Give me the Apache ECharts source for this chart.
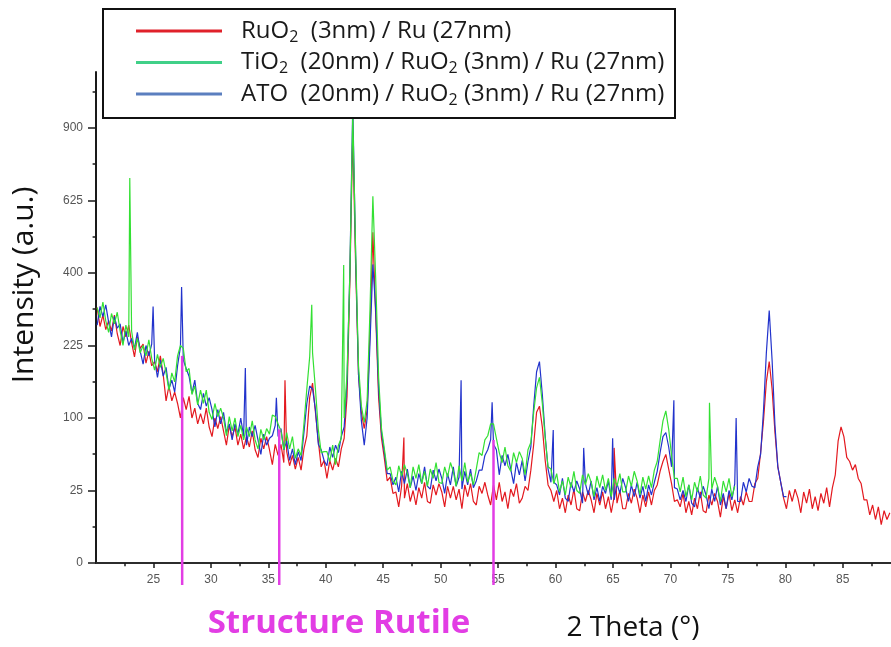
<!DOCTYPE html>
<html>
<head>
<meta charset="utf-8">
<script src="https://cdn.jsdelivr.net/npm/echarts@6/dist/echarts.min.js"></script>
<style>
  html, body { margin: 0; padding: 0; background: #fff; }
  #chart { width: 891px; height: 647px; }
</style>
</head>
<body>
<div id="chart"></div>
<script>
// XRD scans: intensity (a.u.) sampled every 0.25° of 2θ starting at 20.1°
const START = 20.1;
const STEP = 0.25;

// RuO2 (3nm) / Ru (27nm)
const ruo2 = [
  310, 266, 292, 259,  279, 256, 292, 250,  225, 266, 243, 269,  231, 202, 243, 219,
  228, 190, 213, 185,  193, 174, 204, 169,  125, 149, 125, 139,  121, 100, 130, 112,
  132, 100, 114, 92,   106, 92, 114, 88,    76, 100, 86, 102,    83, 66, 90, 76,
  88, 66, 79, 62,      76, 64, 83, 61,      53, 74, 62, 76,      61, 46, 67, 55,
  67, 48, 59, 45,      55, 42, 53, 41,      62, 77, 130, 154,    108, 71, 44, 50,
  34, 50, 41, 52,      44, 62, 74, 132,     380, 882, 420, 169,  108, 86, 112, 256,
  520, 289, 130, 74,   52, 32, 35, 23,      24, 15, 28, 20,      30, 18, 25, 16,
  27, 20, 31, 18,      17, 29, 22, 30,      24, 15, 28, 20,      28, 19, 26, 14,
  29, 21, 30, 18,      16, 28, 23, 31,      22, 16, 29, 19,      31, 18, 24, 14,
  26, 21, 30, 17,      20, 28, 25, 41,      67, 108, 117, 88,    50, 29, 25, 18,
  25, 14, 20, 12,      22, 16, 26, 14,      13, 24, 18, 25,      19, 12, 23, 16,
  24, 14, 21, 12,      21, 17, 25, 14,      14, 23, 17, 26,      20, 12, 22, 15,
  24, 16, 25, 29,      40, 49, 56, 42,      30, 18, 19, 15,      23, 12, 18, 11,
  20, 14, 24, 13,      12, 22, 16, 23,      18, 10, 21, 14,      23, 13, 19, 12,
  21, 16, 24, 18,      18, 30, 34, 58,      96, 156, 193, 144,   81, 44, 31, 20,
  14, 25, 18, 26,      20, 12, 24, 17,      26, 14, 21, 13,      23, 17, 27, 15,
  27, 37, 71, 88,      76, 53, 49, 41,      46, 34, 30, 19,      19, 11, 16, 9,
  15, 7, 13, 9,        12
];

// TiO2 (20nm) / RuO2 (3nm) / Ru (27nm)
const tio2 = [
  310, 286, 324, 279,  253, 296, 272, 299,  256, 225, 269, 243,  256, 216, 240, 210,
  225, 204, 237, 199,  177, 207, 182, 199,  172, 142, 172, 156,  204, 225, 219, 174,
  180, 135, 149, 119,  142, 121, 142, 108,  98, 121, 102, 114,   100, 77, 102, 83,
  100, 76, 90, 72,     88, 76, 96, 72,      62, 85, 72, 86,      79, 104, 102, 92,
  83, 61, 81, 62,      76, 52, 62, 55,      92, 144, 202, 210,   144, 85, 58, 59,
  59, 49, 66, 46,      66, 74, 100, 169,    400, 961, 462, 185,  117, 94, 125, 306,
  640, 380, 164, 86,   62, 41, 44, 32,      29, 45, 36, 46,      38, 27, 44, 34,
  46, 30, 40, 28,      42, 34, 48, 31,      30, 44, 35, 48,      40, 28, 45, 32,
  48, 31, 38, 29,      42, 58, 55, 72,      77, 92, 92, 74,      58, 48, 64, 45,
  40, 58, 48, 59,      52, 37, 61, 69,      108, 146, 164, 121,  74, 44, 42, 30,
  38, 24, 32, 22,      35, 27, 40, 25,      23, 37, 29, 38,      31, 21, 36, 27,
  37, 25, 34, 21,      34, 28, 38, 24,      24, 36, 28, 40,      32, 22, 35, 26,
  36, 27, 41, 49,      71, 96, 110, 85,     55, 34, 34, 24,      35, 21, 29, 19,
  31, 24, 36, 22,      20, 34, 26, 35,      28, 18, 32, 24,      34, 21, 28
];

// ATO (20nm) / RuO2 (3nm) / Ru (27nm)
const ato = [
  269, 313, 289, 317,  276, 243, 289, 262,  272, 231, 256, 225,  240, 219, 253, 213,
  188, 225, 204, 228,  196, 164, 196, 166,  182, 144, 159, 139,  185, 222, 196, 180,
  166, 137, 159, 121,  112, 137, 117, 130,  112, 88, 112, 92,    108, 81, 92, 72,
  92, 79, 100, 76,     66, 88, 76, 90,      72, 56, 79, 66,      74, 77, 90, 76,
  86, 61, 71, 50,      62, 46, 59, 50,      81, 121, 149, 144,   112, 67, 61, 50,
  45, 64, 53, 66,      58, 76, 88, 156,     408, 999, 449, 169,  96, 66, 100, 231,
  424, 303, 144, 81,   58, 38, 38, 29,      35, 24, 40, 30,      42, 27, 36, 25,
  38, 30, 44, 28,      26, 41, 32, 42,      34, 23, 38, 29,      44, 28, 35, 26,
  40, 29, 42, 27,      32, 41, 41, 55,      61, 72, 67, 61,      37, 55, 45, 56,
  42, 30, 48, 37,      50, 32, 49, 64,      117, 174, 193, 135,  77, 42, 31, 31,
  29, 22, 34, 20,      18, 31, 24, 32,      26, 17, 30, 22,      32, 19, 27, 18,
  28, 23, 32, 19,      19, 30, 23, 34,      27, 18, 29, 21,      31, 20, 28, 18,
  29, 22, 31, 40,      58, 76, 81, 64,      44, 27, 26, 19,      25, 18, 29, 17,
  15, 27, 20, 28,      22, 14, 26, 18,      28, 16, 23, 14,      25, 19, 30, 18,
  18, 31, 24, 34,      28, 27, 44, 56,      110, 210, 303, 196,  90, 44, 31, 21,
  21
];

// Sharp single-channel spikes [2θ, intensity]
const ruo2Spikes = [[36.45, 159], [46.8, 75], [65.1, 63]];
const tio2Spikes = [[22.94, 705], [38.78, 317], [41.56, 422], [73.4, 122]];
const atoSpikes = [
  [20.45, 317], [24.97, 313], [27.45, 362], [33.0, 181], [35.7, 130], [51.78, 159],
  [54.48, 123], [59.8, 84], [62.45, 63], [64.97, 74], [70.3, 126], [75.72, 100]
];

// Rutile reference reflections: 2θ position and height of the marker
const rutilePos = [27.5, 35.95, 54.6];
const rutileTop = [204, 85, 72];

// Axis ticks (intensity axis is square-root scaled)
const xTicks = [25, 30, 35, 40, 45, 50, 55, 60, 65, 70, 75, 80, 85];
const xMinorTicks = [22.5, 27.5, 32.5, 37.5, 42.5, 47.5, 52.5, 57.5, 62.5, 67.5, 72.5, 77.5, 82.5, 87.5];
const yTickLabels = [0, 25, 100, 225, 400, 625, 900];
const yMinorTickLabels = [6.25, 56.25, 156.25, 306.25, 506.25, 756.25, 1056.25];

const names = [
  'RuO₂ (3nm) / Ru (27nm)',
  'TiO₂ (20nm) / RuO₂ (3nm) / Ru (27nm)',
  'ATO (20nm) / RuO₂ (3nm) / Ru (27nm)'
];
const legendRich = {
  [names[0]]: '{g|}{t|RuO}{s|2}{t|  (3nm) / Ru (27nm)}',
  [names[1]]: '{g|}{t|TiO}{s|2}{t|  (20nm) / RuO}{s|2}{t| (3nm) / Ru (27nm)}',
  [names[2]]: '{g|}{t|ATO  (20nm) / RuO}{s|2}{t| (3nm) / Ru (27nm)}'
};

const X_MIN = 20, X_MAX = 89.2;
const Y_MAX = 33.86; // sqrt units

function toPoints(values, spikes) {
  const pts = values.map((v, i) => [+(START + i * STEP).toFixed(2), v]);
  spikes.forEach(s => pts.push(s));
  pts.sort((a, b) => a[0] - b[0]);
  return pts.map(p => [p[0], Math.sqrt(p[1])]);
}

const FONT = '"Open Sans", "Noto Sans", sans-serif';
const TICK_FONT = '"Liberation Sans", Arial, sans-serif';
const PINK = '#e23de4';

const chart = echarts.init(document.getElementById('chart'), null, { renderer: 'canvas' });

const lineSeries = (name, data, color, z) => ({
  name, type: 'line', data, showSymbol: false, symbol: 'none', z,
  xAxisIndex: 0, yAxisIndex: 0,
  lineStyle: { color, width: 1.2 }, itemStyle: { color },
  sampling: null, animation: false, silent: true
});

chart.setOption({
  animation: false,
  backgroundColor: '#fff',
  grid: { left: 96, right: 0, top: 72, bottom: 84, containLabel: false },
  xAxis: [
    {
      type: 'value', min: X_MIN, max: X_MAX, position: 'bottom',
      axisLine: { lineStyle: { color: '#1a1a1a', width: 2 } },
      axisTick: { customValues: xTicks, length: 5, lineStyle: { color: '#1a1a1a', width: 1.5 } },
      axisLabel: { customValues: xTicks, margin: 11, color: '#555', fontSize: 12, fontFamily: TICK_FONT },
      splitLine: { show: false }
    },
    {
      type: 'value', min: X_MIN, max: X_MAX, position: 'top',
      axisLine: { lineStyle: { color: '#333', width: 1.5 } },
      axisTick: { show: false }, axisLabel: { show: false }, splitLine: { show: false }
    },
    {
      type: 'value', min: X_MIN, max: X_MAX, position: 'bottom',
      axisLine: { show: false },
      axisTick: { customValues: xMinorTicks, length: 3.3, lineStyle: { color: '#1a1a1a', width: 1.5 } },
      axisLabel: { show: false }, splitLine: { show: false }
    }
  ],
  yAxis: [
    {
      type: 'value', min: 0, max: Y_MAX, position: 'left',
      axisLine: { lineStyle: { color: '#1a1a1a', width: 2 } },
      axisTick: { customValues: yTickLabels.map(Math.sqrt), length: 8, lineStyle: { color: '#1a1a1a', width: 1.5 } },
      axisLabel: {
        customValues: yTickLabels.map(Math.sqrt), margin: 13, color: '#555', fontSize: 12, fontFamily: TICK_FONT,
        formatter: v => String(Math.round(v * v))
      },
      splitLine: { show: false }
    },
    {
      type: 'value', min: 0, max: Y_MAX, position: 'left',
      axisLine: { show: false },
      axisTick: { customValues: yMinorTickLabels.map(Math.sqrt), length: 3.4, lineStyle: { color: '#1a1a1a', width: 1.5 } },
      axisLabel: { show: false }, splitLine: { show: false }
    }
  ],
  legend: {
    orient: 'vertical', left: 131, top: 14, z: 20,
    icon: 'rect', itemWidth: 86, itemHeight: 3, itemGap: 5.5,
    selectedMode: false,
    data: [
      { name: names[0], itemStyle: { color: '#e0212a' } },
      { name: names[1], itemStyle: { color: '#40d088' } },
      { name: names[2], itemStyle: { color: '#5b7fbf' } }
    ],
    formatter: name => legendRich[name],
    textStyle: {
      fontFamily: FONT, fontSize: 24, color: '#1a1a1a',
      rich: {
        g: { width: 14 },
        t: { fontFamily: FONT, fontSize: 24, lineHeight: 28, color: '#1a1a1a' },
        s: { fontFamily: FONT, fontSize: 16, color: '#1a1a1a', verticalAlign: 'bottom' }
      }
    }
  },
  graphic: [
    {
      type: 'rect', z: 10, silent: true,
      shape: { x: 103, y: 9, width: 572, height: 109 },
      style: { fill: '#fff', stroke: '#111', lineWidth: 2 }
    },
    {
      type: 'text', z: 10, x: 24, y: 285, rotation: Math.PI / 2, silent: true,
      style: { text: 'Intensity (a.u.)', font: '30px ' + FONT, fill: '#111', align: 'center', verticalAlign: 'middle' }
    },
    {
      type: 'text', z: 10, x: 339, y: 624, silent: true,
      style: { text: 'Structure Rutile', font: 'bold 33px ' + FONT, fill: PINK, align: 'center', verticalAlign: 'middle' }
    },
    {
      type: 'text', z: 10, x: 633, y: 628, silent: true,
      style: { text: '2 Theta (°)', font: '28px ' + FONT, fill: '#111', align: 'center', verticalAlign: 'middle' }
    }
  ],
  series: [
    lineSeries(names[0], toPoints(ruo2, ruo2Spikes), '#e3191f', 2),
    lineSeries(names[2], toPoints(ato, atoSpikes), '#2233cc', 3),
    lineSeries(names[1], toPoints(tio2, tio2Spikes), '#33e033', 4),
    {
      type: 'custom', coordinateSystem: 'cartesian2d', xAxisIndex: 0, yAxisIndex: 0,
      clip: false, z: 6, silent: true,
      data: rutilePos.map((x, i) => [x, Math.sqrt(rutileTop[i])]),
      renderItem: (params, api) => {
        const top = api.coord([api.value(0), api.value(1)]);
        const base = api.coord([api.value(0), 0]);
        return {
          type: 'line',
          shape: { x1: top[0], y1: top[1], x2: top[0], y2: base[1] + 22 },
          style: { stroke: PINK, lineWidth: 2.5 }
        };
      }
    }
  ]
});
</script>
</body>
</html>
